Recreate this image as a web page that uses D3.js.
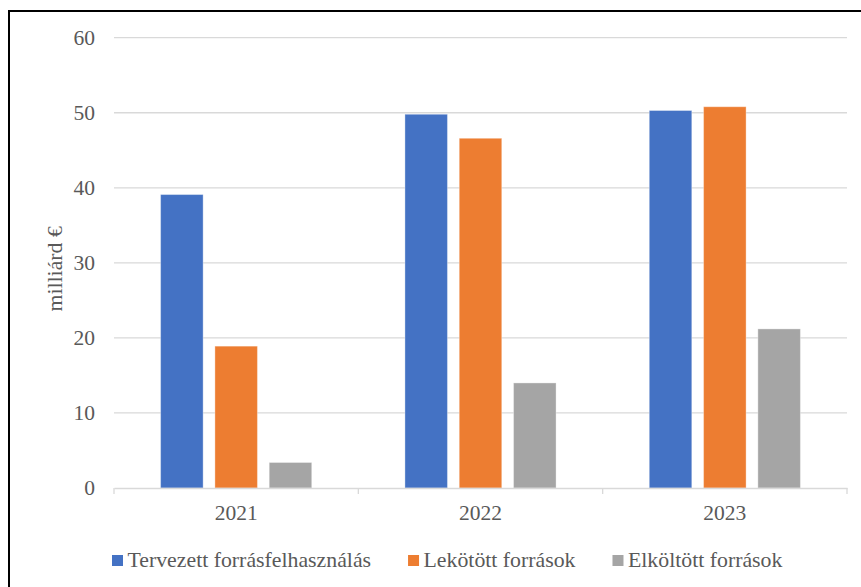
<!DOCTYPE html>
<html>
<head>
<meta charset="utf-8">
<script src="https://cdn.jsdelivr.net/npm/d3@7"></script>
<style>
  body { margin: 0; background: #fff; }
  svg { display: block; }
  text { font-family: "Liberation Serif", "Times New Roman", serif; fill: #595959; }
</style>
</head>
<body>
<svg id="chart" width="861" height="587"></svg>
<script>
const years = ["2021", "2022", "2023"];
const seriesNames = ["Tervezett forrásfelhasználás", "Lekötött források", "Elköltött források"];
const tervezett = [39.1, 49.8, 50.3];
const lekotott = [18.9, 46.6, 50.8];
const elkoltott = [3.4, 14.0, 21.2];
const yTicks = [0, 10, 20, 30, 40, 50, 60];

const seriesValues = [tervezett, lekotott, elkoltott];
const colors = ["#4472C4", "#ED7D31", "#A5A5A5"];

const svg = d3.select("#chart");
const margin = { top: 37.7, left: 114, right: 14 };
const plotW = 861 - margin.left - margin.right;
const plotH = 488 - margin.top;

// outer frame (only left and top edges fall inside the picture)
svg.append("rect")
  .attr("x", 9).attr("y", 11)
  .attr("width", 900).attr("height", 700)
  .attr("fill", "none")
  .attr("stroke", "#000")
  .attr("stroke-width", 2);

const g = svg.append("g").attr("transform", `translate(${margin.left},${margin.top})`);

const x0 = d3.scaleBand().domain(years).range([0, plotW]);
const x1 = d3.scaleBand().domain(seriesNames).range([0, x0.bandwidth()])
  .paddingInner(0.217).paddingOuter(0.858);
const y = d3.scaleLinear().domain([0, 60]).range([plotH, 0]);

// gridlines
g.append("g")
  .selectAll("line")
  .data(yTicks.filter(d => d > 0))
  .enter().append("line")
  .attr("x1", 0).attr("x2", plotW)
  .attr("y1", d => y(d)).attr("y2", d => y(d))
  .attr("stroke", "#d9d9d9")
  .attr("stroke-width", 1.3);

// y labels
const yAxis = g.append("g")
  .call(d3.axisLeft(y).tickValues(yTicks).tickSize(0).tickPadding(19));
yAxis.select(".domain").remove();
yAxis.selectAll("text")
  .attr("font-size", "21.5px")
  .attr("fill", "#595959")
  .style("font-family", '"Liberation Serif", "Times New Roman", serif');

// bars
const groups = g.append("g")
  .selectAll("g")
  .data(years)
  .enter().append("g")
  .attr("transform", d => `translate(${x0(d)},0)`);

groups.selectAll("rect")
  .data((d, i) => seriesNames.map((s, k) => ({ key: s, value: seriesValues[k][i], k })))
  .enter().append("rect")
  .attr("x", d => x1(d.key))
  .attr("y", d => y(d.value))
  .attr("width", x1.bandwidth())
  .attr("height", d => plotH - y(d.value))
  .attr("fill", d => colors[d.k])
  .attr("stroke", "#fff")
  .attr("stroke-opacity", 0.35)
  .attr("stroke-width", 1);

// x axis
const xAxis = g.append("g")
  .attr("transform", `translate(0,${plotH})`)
  .call(d3.axisBottom(x0).tickSize(0).tickPadding(17));
xAxis.select(".domain").attr("stroke", "#d9d9d9").attr("stroke-width", 1.3);
xAxis.selectAll("text")
  .attr("font-size", "21.5px")
  .attr("fill", "#595959")
  .style("font-family", '"Liberation Serif", "Times New Roman", serif');

// category separators
xAxis.append("g")
  .selectAll("line")
  .data([0, ...years.map(d => x0(d) + x0.bandwidth())])
  .enter().append("line")
  .attr("x1", d => d).attr("x2", d => d)
  .attr("y1", 0).attr("y2", 6)
  .attr("stroke", "#d9d9d9")
  .attr("stroke-width", 1.3);

// y title
svg.append("text")
  .attr("transform", `translate(62,${margin.top + y(30) + 6}) rotate(-90)`)
  .attr("text-anchor", "middle")
  .attr("font-size", "21.8px")
  .text("milliárd €");

// legend
const legend = svg.append("g").attr("transform", "translate(112,555)");
let cursor = 0;
seriesNames.forEach((name, i) => {
  const item = legend.append("g").attr("transform", `translate(${cursor},0)`);
  item.append("rect")
    .attr("width", 11).attr("height", 11)
    .attr("fill", colors[i]);
  const t = item.append("text")
    .attr("x", 15.5).attr("y", 12)
    .attr("font-size", "21.8px")
    .text(name);
  cursor += 15.5 + t.node().getComputedTextLength() + 37;
});
</script>
</body>
</html>
